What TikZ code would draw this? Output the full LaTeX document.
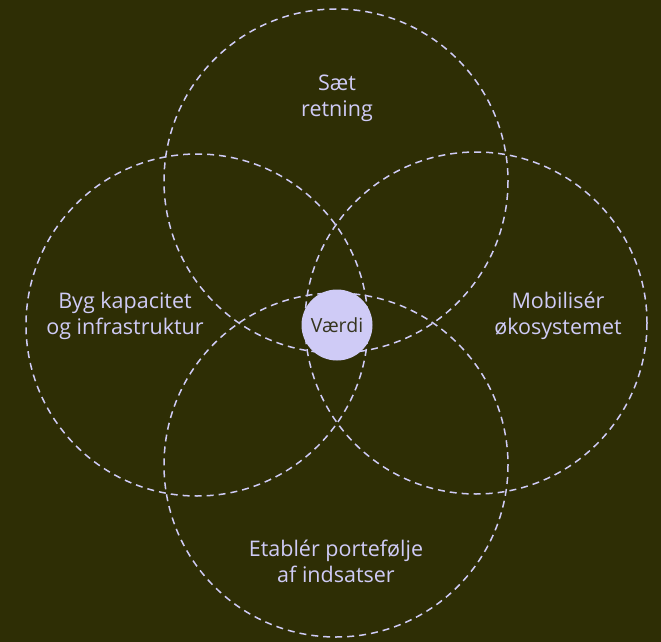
\documentclass[tikz,border=0pt]{standalone}
\usepackage{fontspec}
\setmainfont{Open Sans}
\usepackage{xcolor}
\definecolor{olivebg}{HTML}{2E2E05}
\definecolor{lavender}{HTML}{CFCBF6}
\definecolor{darktext}{HTML}{35351F}
\tikzset{
  ring/.style={draw=lavender, line width=1.5pt, dash pattern=on 7pt off 5pt},
  area/.style={text=lavender, align=center, font=\fontsize{21.5}{26}\selectfont},
  core/.style={circle, fill=lavender, minimum size=71pt, inner sep=0pt, text=darktext, font=\fontsize{19.5}{22}\selectfont}
}
\begin{document}
\begin{tikzpicture}[x=1pt,y=-1pt]
\fill[olivebg] (0,0) rectangle (661,642);
\useasboundingbox (0,0) rectangle (661,642);
% the four overlapping fields
\coordinate (top) at (336,181);
\coordinate (bottom) at (336,465);
\coordinate (left) at (197,325);
\coordinate (right) at (476,323);
\draw[ring] (top) circle (172);
\draw[ring] (bottom) circle (172);
\draw[ring] (left) circle (171);
\draw[ring] (right) circle (171);
% labels
\node[area] (saet) at (337,98) {Sæt\\retning};
\node[area] (byg) at (125,316) {Byg kapacitet\\og infrastruktur};
\node[area] (mobil) at (558,316) {Mobilisér\\økosystemet};
\node[area] (etabl) at (336,561) {Etablér portefølje\\af indsatser};
% value in the middle
\node[core] (vaerdi) at (337,325) {Værdi};
\end{tikzpicture}
\end{document}
